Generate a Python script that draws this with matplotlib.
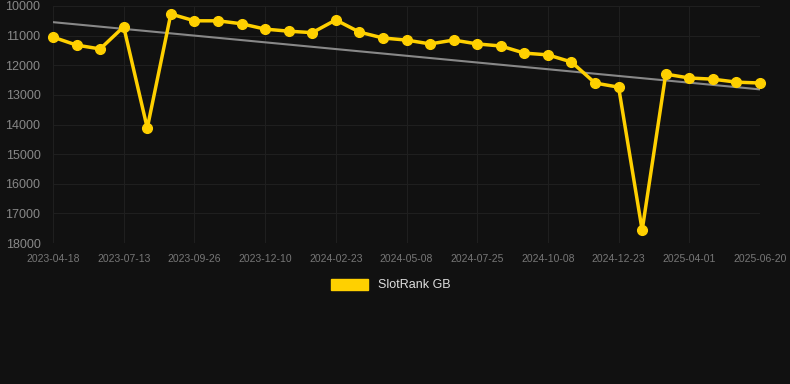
import numpy as np
import matplotlib
matplotlib.use('Agg')
from matplotlib import pyplot as plt
from matplotlib.patches import Patch

plt.rcParams['font.family'] = ['Liberation Sans', 'DejaVu Sans']

# rank values, one per sample (evenly spaced on the axis)
ranks = [11050, 11320, 11450, 10700, 14120, 10270, 10500, 10500, 10600, 10780,
         10850, 10900, 10470, 10880, 11080, 11150, 11280, 11150, 11280, 11350,
         11590, 11650, 11890, 12600, 12740, 17570, 12300, 12430, 12470, 12570,
         12600]
tick_labels = ['2023-04-18', '2023-07-13', '2023-09-26', '2023-12-10', '2024-02-23',
               '2024-05-08', '2024-07-25', '2024-10-08', '2024-12-23', '2025-04-01',
               '2025-06-20']
y_ticks = [10000, 11000, 12000, 13000, 14000, 15000, 16000, 17000, 18000]

bg = '#111111'
gold = '#FFD000'
x = np.arange(len(ranks))

fig = plt.figure(figsize=(7.9, 3.84), dpi=100, facecolor=bg)
ax = fig.add_axes([53/790, 1-243/384, 707/790, 237/384], facecolor=bg)

# trend line
k, b = np.polyfit(x, ranks, 1)
ax.plot(x, k*x + b, color='#888888', lw=1.5, zorder=2)

ax.plot(x, ranks, color=gold, lw=2.5, marker='o', ms=7, zorder=3, clip_on=False)

ax.set_xlim(0, len(ranks)-1)
ax.set_ylim(18000, 10000)
ax.set_xticks(x[::3])
ax.set_xticklabels(tick_labels)
ax.set_yticks(y_ticks)
ax.tick_params(axis='x', colors='#777777', labelsize=7.5, length=0, pad=8)
ax.tick_params(axis='y', colors='#888888', labelsize=9, length=0, pad=9)
ax.grid(True, color='#1f1f1f', lw=0.8)
for s in ax.spines.values():
    s.set_visible(False)

fig.legend(handles=[Patch(color=gold, label='SlotRank GB')], loc='center',
           bbox_to_anchor=(391/790, 1-285/384), frameon=False, labelcolor='#dddddd',
           fontsize=9, handlelength=3.0, handleheight=1.0)

fig.savefig('out.png', dpi=100, facecolor=bg)
